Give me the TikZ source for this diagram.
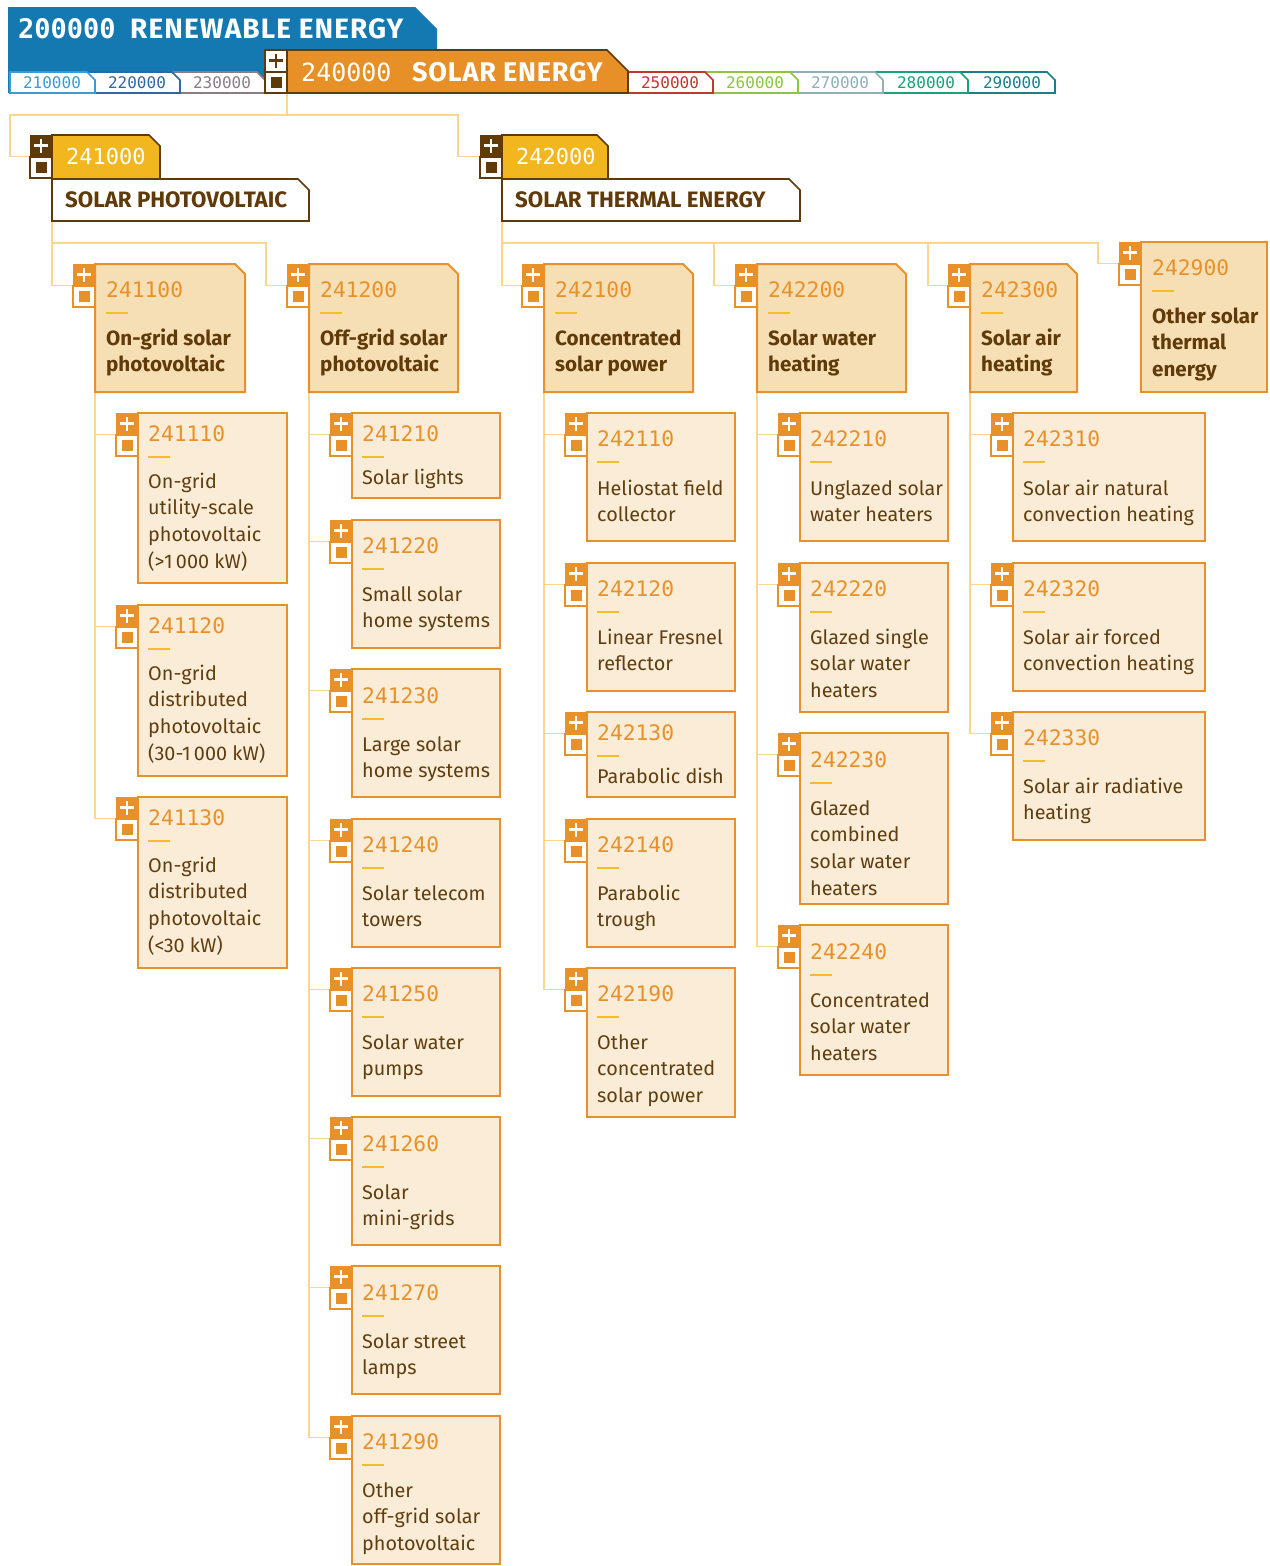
\documentclass[tikz,border=0pt]{standalone}
\usepackage{fontspec}
\setmainfont{Fira Sans}
\newfontfamily\codefont{DejaVu Sans Mono}
\usetikzlibrary{calc,backgrounds}

\definecolor{hdrblue}{RGB}{20,121,176}
\definecolor{solar}{RGB}{232,144,40}
\definecolor{brownd}{RGB}{96,58,8}
\definecolor{catyellow}{RGB}{242,183,30}
\definecolor{lvtwo}{RGB}{246,223,180}
\definecolor{leaffill}{RGB}{250,236,214}
\definecolor{edge}{RGB}{232,145,42}
\definecolor{wire}{RGB}{252,214,140}
\definecolor{dashy}{RGB}{244,190,40}
\definecolor{txtbrown}{RGB}{96,62,16}
\definecolor{tabA}{RGB}{59,155,214}
\definecolor{tabB}{RGB}{44,104,168}
\definecolor{tabC}{RGB}{138,125,132}
\definecolor{tabE}{RGB}{192,57,43}
\definecolor{tabF}{RGB}{140,198,63}
\definecolor{tabG}{RGB}{143,176,184}
\definecolor{tabH}{RGB}{23,163,122}
\definecolor{tabI}{RGB}{23,128,140}

\tikzset{
  conn/.style={draw=wire, line width=1.5pt},
  box/.style={inner sep=0pt, outer sep=0pt, anchor=north west, rectangle},
  leafbox/.style={box, draw=edge, fill=leaffill, line width=2pt},
  plusq/.style={box, minimum width=22pt, minimum height=21.5pt, fill=#1,
    path picture={\draw[white, line width=2.6pt]
      ([xshift=-7pt]path picture bounding box.center) -- ([xshift=7pt]path picture bounding box.center)
      ([yshift=-7pt]path picture bounding box.center) -- ([yshift=7pt]path picture bounding box.center);}},
  minq/.style={box, minimum width=22pt, minimum height=21.5pt, fill=white, draw=#1, line width=2pt,
    path picture={\fill[#1] ([shift={(-5.5pt,-5.5pt)}]path picture bounding box.center)
      rectangle ([shift={(5.5pt,5.5pt)}]path picture bounding box.center);}},
  codetxt/.style={anchor=base west, inner sep=0pt, text=edge,
    font=\codefont\fontsize{21.3}{24}\selectfont},
  leaftxt/.style={anchor=base west, inner sep=0pt, text=txtbrown,
    font=\fontsize{19.8}{24}\selectfont},
  midtxt/.style={anchor=base west, inner sep=0pt, text=brownd,
    font=\bfseries\fontsize{20.6}{24}\selectfont},
  dashline/.style={draw=dashy, line width=2.5pt},
  tabtxt/.style={anchor=base, inner sep=0pt, text=#1,
    font=\codefont\fontsize{16}{18}\selectfont},
}

% outline of a named box with its top right corner cut off
\newcommand\cham[3]{%
  \path[#3] (#1.north west) -- ([xshift=-#2]#1.north east) -- ([yshift=-#2]#1.north east)
    -- (#1.south east) -- (#1.south west) -- cycle;}

% sibling tab: name, left x, width, colour, label centre x, label
\newcommand\tab[6]{%
  \node[box, minimum width=#3pt, minimum height=21pt] (#1) at (#2,72) {};
  \cham{#1}{8pt}{fill=white, draw=#4, line width=1.6pt}
  \node[tabtxt=#4] (l#1) at (#5,88) {#6};
}

% leaf: code, plus-square x, top, bottom, right, code centre y, first line centre y, lines
\newcommand\leaf[8]{%
  \node[plusq=edge] (p#1) at (#2,#3) {};
  \node[minq=edge] (m#1) at (#2,{#3+21.5}) {};
  \node[leafbox, minimum width={(#5-#2-22)*1pt}, minimum height={(#4-#3)*1pt}] (b#1) at ({#2+22},#3) {};
  \node[codetxt] (c#1) at ({#2+32},{#6+7}) {#1};
  \draw[dashline] ({#2+32},{#6+23}) -- ++(22,0);
  \foreach \tline [count=\k from 0] in {#8}
    \node[leaftxt] (t#1-\k) at ({#2+32},{#7+7+\k*26.7}) {\tline};
}

% branch: code, plus-square x, top, bottom, right, code centre y, first line centre y, lines, chamfer
\newcommand\branch[9]{%
  \node[plusq=edge] (p#1) at (#2,#3) {};
  \node[minq=edge] (m#1) at (#2,{#3+21.5}) {};
  \node[box, minimum width={(#5-#2-22)*1pt}, minimum height={(#4-#3)*1pt}] (b#1) at ({#2+22},#3) {};
  \cham{b#1}{#9}{draw=edge, fill=lvtwo, line width=2pt}
  \node[codetxt] (c#1) at ({#2+33},{#6+7}) {#1};
  \draw[dashline] ({#2+33},{#6+23}) -- ++(22,0);
  \foreach \tline [count=\k from 0] in {#8}
    \node[midtxt] (t#1-\k) at ({#2+33},{#7+7+\k*26.5}) {\tline};
}

% category: code, plus-square x, yellow right, white right, title
\newcommand\category[5]{%
  \node[plusq=brownd] (p#1) at (#2,135) {};
  \node[minq=brownd] (m#1) at (#2,156.5) {};
  \node[box, minimum width={(#3-#2-22)*1pt}, minimum height=44pt] (y#1) at ({#2+22},135) {};
  \cham{y#1}{11pt}{fill=catyellow, draw=brownd, line width=1.6pt}
  \node[anchor=base west, inner sep=0pt, text=white, font=\codefont\fontsize{22}{24}\selectfont]
        (c#1) at ({#2+36},164) {#1};
  \node[box, minimum width={(#4-#2-22)*1pt}, minimum height=42pt] (w#1) at ({#2+22},179) {};
  \cham{w#1}{11pt}{fill=white, draw=brownd, line width=1.6pt}
  \node[anchor=base west, inner sep=0pt, text=brownd, font=\bfseries\fontsize{22.3}{24}\selectfont]
        (t#1) at ({#2+35},207.5) {#5};
}

\begin{document}
\begin{tikzpicture}[x=1pt, y=-1pt]
\useasboundingbox (0,0) rectangle (1269,1566);

% ---- header band ----
\node[box, minimum width=429pt, minimum height=86pt] (hdr) at (8,7) {};
\cham{hdr}{22pt}{fill=hdrblue}
\node[anchor=base west, inner sep=0pt, text=white, font=\codefont\bfseries\fontsize{27}{28}\selectfont]
  (hdrcode) at (18,38) {200000};
\node[anchor=base west, inner sep=0pt, text=white,
  font=\bfseries\fontsize{28}{30}\selectfont\addfontfeature{LetterSpace=4}]
  (hdrtitle) at (130,38) {RENEWABLE ENERGY};

% sibling tabs, drawn right to left so each overlaps its right neighbour
\tab{tab290}{960}{95}{tabI}{1012}{290000}
\tab{tab280}{875}{93}{tabH}{926}{280000}
\tab{tab270}{790}{93}{tabG}{840}{270000}
\tab{tab260}{705}{93}{tabF}{755}{260000}
\tab{tab250}{620}{93}{tabE}{670}{250000}
\tab{tab230}{172}{93}{tabC}{222}{230000}
\tab{tab220}{87}{93}{tabB}{137}{220000}
\tab{tab210}{10}{85}{tabA}{52}{210000}

% current group: solar energy
\node[box, minimum width=341pt, minimum height=43pt] (o240000) at (287,50) {};
\cham{o240000}{21pt}{fill=solar, draw=brownd, line width=1.6pt}
\node[box, minimum width=22pt, minimum height=21.5pt, fill=white, draw=brownd, line width=1.6pt,
  path picture={\draw[brownd, line width=2.6pt]
    ([xshift=-7pt]path picture bounding box.center) -- ([xshift=7pt]path picture bounding box.center)
    ([yshift=-7pt]path picture bounding box.center) -- ([yshift=7pt]path picture bounding box.center);}]
  (p240000) at (265,50) {};
\node[minq=brownd] (m240000) at (265,71.5) {};
\node[anchor=base west, inner sep=0pt, text=white, font=\codefont\fontsize{25}{28}\selectfont]
  (c240000) at (301,81) {240000};
\node[anchor=base west, inner sep=0pt, text=white,
  font=\bfseries\fontsize{27}{28}\selectfont\addfontfeature{LetterSpace=3}]
  (t240000) at (412,81) {SOLAR ENERGY};

% ---- categories ----
\category{241000}{30}{160}{309}{SOLAR PHOTOVOLTAIC}
\category{242000}{480}{608}{800}{SOLAR THERMAL ENERGY}

% ---- solar photovoltaic ----
\branch{241100}{73}{264}{392}{245}{290}{338}{On-grid solar, photovoltaic}{10pt}
\branch{241200}{287}{264}{392}{458}{290}{338}{Off-grid solar, photovoltaic}{10pt}

\leaf{241110}{116}{413}{583}{287}{434}{481}{On-grid, utility-scale, photovoltaic, (>1\,000 kW)}
\leaf{241120}{116}{605}{776}{287}{626}{673}{On-grid, distributed, photovoltaic, (30-1\,000 kW)}
\leaf{241130}{116}{797}{968}{287}{818}{865}{On-grid, distributed, photovoltaic, (<30 kW)}

\leaf{241210}{330}{413}{498}{500}{434}{477}{Solar lights}
\leaf{241220}{330}{520}{648}{500}{546}{594}{Small solar, home systems}
\leaf{241230}{330}{669}{797}{500}{696}{744}{Large solar, home systems}
\leaf{241240}{330}{819}{947}{500}{845}{893}{Solar telecom, towers}
\leaf{241250}{330}{968}{1096}{500}{994}{1042}{Solar water, pumps}
\leaf{241260}{330}{1117}{1245}{500}{1144}{1192}{Solar, mini-grids}
\leaf{241270}{330}{1266}{1394}{500}{1293}{1341}{Solar street, lamps}
\leaf{241290}{330}{1416}{1564}{500}{1442}{1490}{Other, off-grid solar, photovoltaic}

% ---- solar thermal energy ----
\branch{242100}{522}{264}{392}{693}{290}{338}{Concentrated, solar power}{10pt}
\branch{242200}{735}{264}{392}{906}{290}{338}{Solar water, heating}{10pt}
\branch{242300}{948}{264}{392}{1077}{290}{338}{Solar air, heating}{10pt}
\branch{242900}{1119}{242}{392}{1267}{268}{316}{Other solar, thermal, energy}{0pt}

\leaf{242110}{565}{413}{541}{735}{439}{488}{Heliostat field, collector}
\leaf{242120}{565}{563}{691}{735}{589}{637}{Linear Fresnel, reflector}
\leaf{242130}{565}{712}{797}{735}{733}{776}{Parabolic dish}
\leaf{242140}{565}{819}{947}{735}{845}{893}{Parabolic, trough}
\leaf{242190}{565}{968}{1117}{735}{994}{1042}{Other, concentrated, solar power}

\leaf{242210}{778}{413}{541}{948}{439}{488}{Unglazed solar, water heaters}
\leaf{242220}{778}{563}{712}{948}{589}{637}{Glazed single, solar water, heaters}
\leaf{242230}{778}{733}{904}{948}{760}{808}{Glazed, combined, solar water, heaters}
\leaf{242240}{778}{925}{1075}{948}{952}{1000}{Concentrated, solar water, heaters}

\leaf{242310}{991}{413}{541}{1205}{439}{488}{Solar air natural, convection heating}
\leaf{242320}{991}{563}{691}{1205}{589}{637}{Solar air forced, convection heating}
\leaf{242330}{991}{712}{840}{1205}{738}{786}{Solar air radiative, heating}

% ---- connectors ----
\begin{scope}[on background layer]
  \draw[conn] (o240000.south west) -- ++(0,22) -| ([xshift=-20pt]p241000.south west) -- (p241000.south west);
  \draw[conn] (o240000.south west) -- ++(0,22) -| ([xshift=-22pt]p242000.south west) -- (p242000.south west);

  \draw[conn] (w241000.south west) |- (p241100.south west);
  \draw[conn] (w241000.south west) -- ++(0,22) -| ([xshift=-21pt]p241200.south west) -- (p241200.south west);

  \draw[conn] (w242000.south west) |- (p242100.south west);
  \draw[conn] (w242000.south west) -- ++(0,22) -| ([xshift=-21pt]p242200.south west) -- (p242200.south west);
  \draw[conn] (w242000.south west) -- ++(0,22) -| ([xshift=-20pt]p242300.south west) -- (p242300.south west);
  \draw[conn] (w242000.south west) -- ++(0,22) -| ([xshift=-21pt]p242900.south west) -- (p242900.south west);

  \foreach \c in {241110,241120,241130}
    \draw[conn] (b241100.south west) |- (p\c.south west);
  \foreach \c in {241210,241220,241230,241240,241250,241260,241270,241290}
    \draw[conn] (b241200.south west) |- (p\c.south west);
  \foreach \c in {242110,242120,242130,242140,242190}
    \draw[conn] (b242100.south west) |- (p\c.south west);
  \foreach \c in {242210,242220,242230,242240}
    \draw[conn] (b242200.south west) |- (p\c.south west);
  \foreach \c in {242310,242320,242330}
    \draw[conn] (b242300.south west) |- (p\c.south west);
\end{scope}
\end{tikzpicture}
\end{document}
